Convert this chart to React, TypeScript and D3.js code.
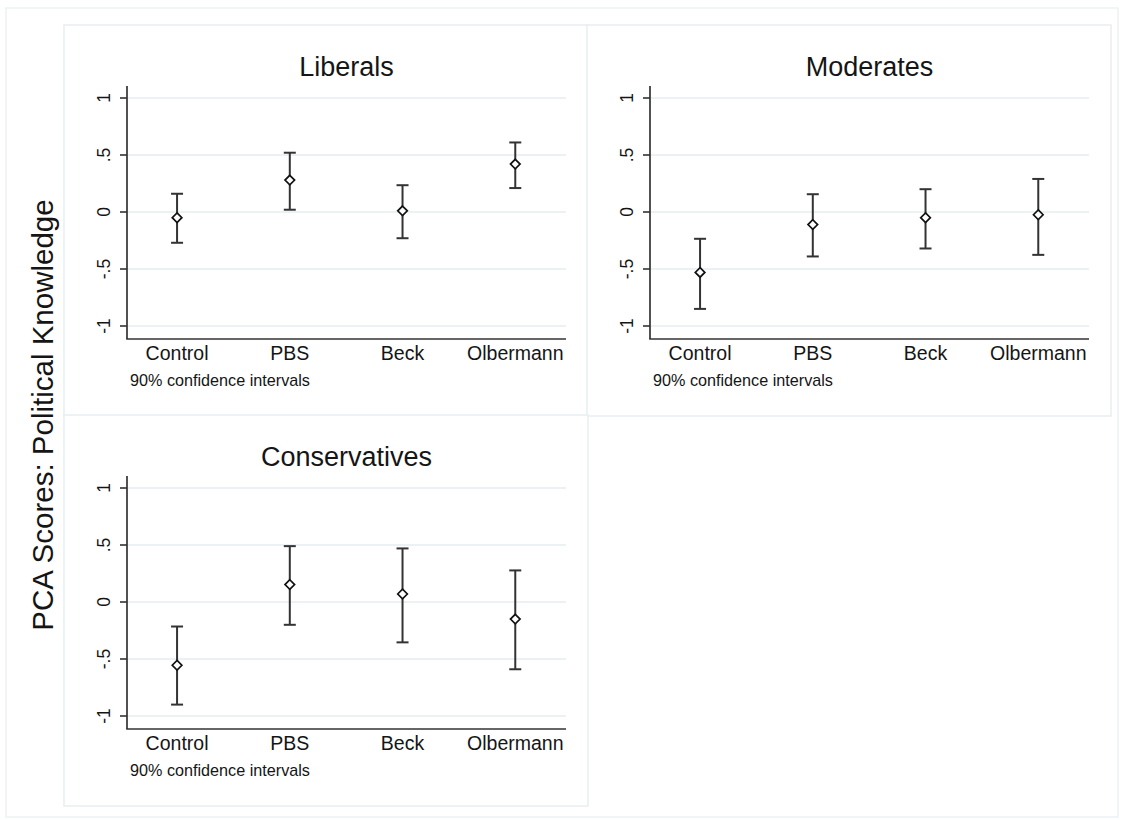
import React from 'react';
import * as d3 from 'd3';

const categories = ['Control', 'PBS', 'Beck', 'Olbermann'];
const panelTitles = ['Liberals', 'Moderates', 'Conservatives'];

const liberalsMean = [-0.05, 0.28, 0.01, 0.42];
const liberalsLow = [-0.27, 0.02, -0.23, 0.21];
const liberalsHigh = [0.16, 0.52, 0.235, 0.61];

const moderatesMean = [-0.53, -0.11, -0.05, -0.024];
const moderatesLow = [-0.85, -0.39, -0.32, -0.376];
const moderatesHigh = [-0.235, 0.156, 0.2, 0.29];

const conservativesMean = [-0.555, 0.153, 0.07, -0.15];
const conservativesLow = [-0.9, -0.2, -0.354, -0.59];
const conservativesHigh = [-0.215, 0.49, 0.47, 0.277];

const yTicks = [-1, -0.5, 0, 0.5, 1];
const yTickLabels = ['-1', '-.5', '0', '.5', '1'];
const yAxisTitle = 'PCA Scores: Political Knowledge';
const note = '90% confidence intervals';

const panels = [
  { title: panelTitles[0], mean: liberalsMean, low: liberalsLow, high: liberalsHigh, dx: 0, dy: 0 },
  { title: panelTitles[1], mean: moderatesMean, low: moderatesLow, high: moderatesHigh, dx: 523, dy: 0 },
  { title: panelTitles[2], mean: conservativesMean, low: conservativesLow, high: conservativesHigh, dx: 0, dy: 390 },
];

const FONT = '"Liberation Sans", Arial, Helvetica, sans-serif';
const INK = '#151515';
const AXIS = '#333';
const GRID = '#e6edf0';
const FRAME = '#e8eef1';

function Panel({ p }: { p: typeof panels[number] }) {
  const x = d3.scaleLinear().domain([0.556, 4.45]).range([127, 566]);
  const y = d3.scaleLinear().domain([-1, 1]).range([326, 98]);
  const axisY = 339;
  const axisTop = 86;
  const cap = 6;
  const d = 4.8;
  return (
    <g transform={`translate(${p.dx},${p.dy})`}>
      <rect x={64} y={25} width={524} height={391} fill="#fff" stroke={FRAME} strokeWidth={1.5} />
      <text x={(127 + 566) / 2} y={76} textAnchor="middle" fontSize={27} fill={INK} fontFamily={FONT}>
        {p.title}
      </text>
      {yTicks.map((t, i) => (
        <g key={i}>
          <line x1={127} x2={566} y1={y(t)} y2={y(t)} stroke={GRID} strokeWidth={1.5} />
          <line x1={120} x2={127} y1={y(t)} y2={y(t)} stroke={AXIS} strokeWidth={1.6} />
          <text
            transform={`translate(110,${y(t)}) rotate(-90)`}
            textAnchor="middle"
            fontSize={17.5}
            fill={INK}
            fontFamily={FONT}
          >
            {yTickLabels[i]}
          </text>
        </g>
      ))}
      <line x1={127} x2={127} y1={axisTop} y2={axisY} stroke={AXIS} strokeWidth={1.7} />
      <line x1={126.2} x2={566} y1={axisY} y2={axisY} stroke={AXIS} strokeWidth={1.7} />
      {categories.map((c, i) => (
        <text key={c} x={x(i + 1)} y={360} textAnchor="middle" fontSize={19.5} fill={INK} fontFamily={FONT}>
          {c}
        </text>
      ))}
      <text x={130} y={386} fontSize={16.2} fill={INK} fontFamily={FONT}>
        {note}
      </text>
      {p.mean.map((m, i) => {
        const cx = x(i + 1);
        const cy = y(m);
        const yl = y(p.low[i]);
        const yh = y(p.high[i]);
        return (
          <g key={i}>
            <line x1={cx} x2={cx} y1={yh} y2={yl} stroke={AXIS} strokeWidth={2} />
            <line x1={cx - cap} x2={cx + cap} y1={yh} y2={yh} stroke={AXIS} strokeWidth={2} />
            <line x1={cx - cap} x2={cx + cap} y1={yl} y2={yl} stroke={AXIS} strokeWidth={2} />
            <path
              d={`M${cx},${cy - d}L${cx + d},${cy}L${cx},${cy + d}L${cx - d},${cy}Z`}
              fill="#fff"
              stroke="#111"
              strokeWidth={1.7}
            />
          </g>
        );
      })}
    </g>
  );
}

export default function App() {
  return (
    <svg
      width={1124}
      height={820}
      style={{ position: 'absolute', left: 0, top: 0, background: '#fff' }}
    >
      <rect x={6} y={8} width={1112} height={809} fill="#fff" stroke="#eef2f4" strokeWidth={1.5} />
      {panels.map((p) => (
        <Panel key={p.title} p={p} />
      ))}
      <text
        transform="translate(53,415) rotate(-90)"
        textAnchor="middle"
        fontSize={29.5}
        fill={INK}
        fontFamily={FONT}
      >
        {yAxisTitle}
      </text>
    </svg>
  );
}
